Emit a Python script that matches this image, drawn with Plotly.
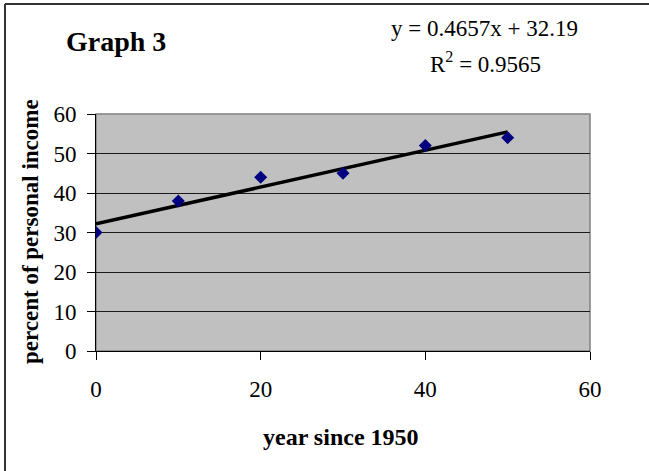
import numpy as np
import plotly.graph_objects as go

years = [0, 10, 20, 30, 40, 50]
percent = [30, 38, 44, 45, 52, 54]
x_ticks = [0, 20, 40, 60]
y_ticks = [0, 10, 20, 30, 40, 50, 60]

slope, intercept = np.polyfit(years, percent, 1)
r2 = np.corrcoef(years, percent)[0, 1] ** 2
trend_x = [min(years), max(years)]
trend_y = [slope * v + intercept for v in trend_x]

W, H = 649, 471
L, R, T, B = 96, 59, 114, 120
PW, PH = W - L - R, H - T - B

def px(xp):
    return (xp - L) / PW

def py(yp):
    return (H - B - yp) / PH

FONT = "Liberation Serif"

fig = go.Figure()
fig.add_trace(go.Scatter(x=trend_x, y=trend_y, mode="lines",
                         line=dict(color="black", width=3.5), hoverinfo="skip"))
fig.add_trace(go.Scatter(x=years, y=percent, mode="markers",
                         marker=dict(symbol="diamond", size=10, color="#000080",
                                     line=dict(width=0))))

fig.update_layout(
    width=W, height=H,
    margin=dict(l=L, r=R, t=T, b=B),
    paper_bgcolor="white", plot_bgcolor="#C0C0C0",
    showlegend=False,
    font=dict(family=FONT, size=23, color="black"),
    xaxis=dict(range=[0, 60], tickvals=x_ticks, showgrid=False, zeroline=False,
               showline=True, linecolor="black", linewidth=1,
               ticks="outside", ticklen=8, tickcolor="black",
               tickfont=dict(family=FONT, size=23, color="black"), ticklabelstandoff=9),
    yaxis=dict(range=[0, 60], tickvals=y_ticks, showgrid=True, gridcolor="#1a1a1a",
               gridwidth=1, zeroline=False,
               showline=True, linecolor="black", linewidth=1,
               ticks="outside", ticklen=8, tickcolor="black",
               tickfont=dict(family=FONT, size=23, color="black"), ticklabelstandoff=6),
    shapes=[
        dict(type="rect", xref="paper", yref="paper", x0=0, x1=1, y0=0, y1=1,
             line=dict(color="#808080", width=1.5), layer="below"),
        dict(type="line", xref="paper", yref="paper", x0=px(5), x1=px(W + 5),
             y0=py(4), y1=py(4), line=dict(color="#333333", width=2)),
        dict(type="line", xref="paper", yref="paper", x0=px(5), x1=px(5),
             y0=py(4), y1=py(H + 5), line=dict(color="#333333", width=2)),
    ],
    annotations=[
        dict(text="<b>Graph 3</b>", xref="paper", yref="paper", x=px(116), y=py(42),
             showarrow=False, font=dict(family=FONT, size=28), xanchor="center", yanchor="middle"),
        dict(text=f"y = {slope:.4f}x + {intercept:.2f}", xref="paper", yref="paper",
             x=px(484), y=py(28), showarrow=False, font=dict(family=FONT, size=23),
             xanchor="center", yanchor="middle"),
        dict(text=f"R<sup>2</sup> = {r2:.4f}", xref="paper", yref="paper",
             x=px(485), y=py(62), showarrow=False, font=dict(family=FONT, size=23),
             xanchor="center", yanchor="middle"),
        dict(text="<b>year since 1950</b>", xref="paper", yref="paper", x=px(341), y=py(437),
             showarrow=False, font=dict(family=FONT, size=24), xanchor="center", yanchor="middle"),
        dict(text="<b>percent of personal income</b>", xref="paper", yref="paper",
             x=px(30), y=py(232), textangle=-90, showarrow=False,
             font=dict(family=FONT, size=23), xanchor="center", yanchor="middle"),
    ],
)

fig.write_html("out.html", config={"displayModeBar": False},
               post_script="document.body.style.margin='0';document.body.style.overflow='hidden';")
